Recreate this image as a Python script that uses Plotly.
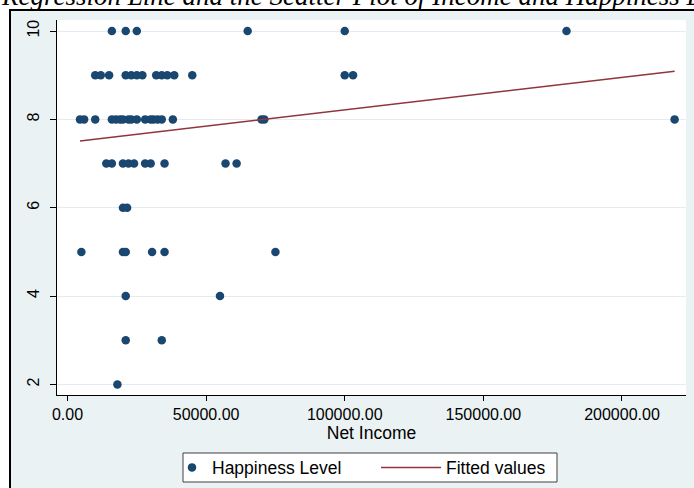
import plotly.graph_objects as go

# Observed happiness level (0-10) against net income, grouped by happiness level
income = [
    16000, 21000, 25000, 65000, 100000, 180000,                       # 10
    10000, 12000, 15000, 21000, 23000, 25000, 27000, 32000, 34000,
    36000, 38500, 45000, 100000, 103000,                              # 9
    4500, 6000, 10000, 16000, 17500, 19000, 20000, 22000, 23000,
    25000, 28000, 30000, 31000, 32500, 34000, 38000, 70000, 71000,
    219000,                                                           # 8
    14000, 16000, 20000, 22000, 24000, 28000, 30000, 35000, 57000,
    61000,                                                            # 7
    20000, 21500,                                                     # 6
    5000, 20000, 21000, 30500, 35000, 75000,                          # 5
    21000, 55000,                                                     # 4
    21000, 34000,                                                     # 3
    18000,                                                            # 2
]
happiness = (
    [10] * 6 + [9] * 14 + [8] * 19 + [7] * 10 + [6] * 2
    + [5] * 6 + [4] * 2 + [3] * 2 + [2] * 1
)

# Linear fit of happiness on income, evaluated at the ends of the income range
fit_income = [4500, 219000]
fit_happiness = [7.51, 9.09]

x_ticks = [0, 50000, 100000, 150000, 200000]
x_tick_labels = ["0.00", "50000.00", "100000.00", "150000.00", "200000.00"]
y_ticks = [2, 4, 6, 8, 10]

title_text = "Regression Line and the Scatter Plot of Income and Happiness Level"

NAVY = "#1A476F"
MAROON = "#90353B"
REGION = "#EAF2F3"
GRID = "#E4ECEF"
SANS = "Arial, Liberation Sans, sans-serif"

W, H = 694, 488
L, R, T, B = 57, 8, 20, 93
pw, ph = W - L - R, H - T - B


def px_x(p):
    return (p - L) / pw


def px_y(p):
    return (H - B - p) / ph


fig = go.Figure()
fig.add_trace(go.Scatter(
    x=income, y=happiness, mode="markers", name="Happiness Level",
    marker=dict(color=NAVY, size=8.5, line=dict(width=0)),
    legend="legend",
))
fig.add_trace(go.Scatter(
    x=fit_income, y=fit_happiness, mode="lines", name="Fitted values",
    line=dict(color=MAROON, width=1.5),
    legend="legend2",
))

legend_common = dict(
    orientation="h", yanchor="middle", y=px_y(467.5),
    bgcolor="rgba(0,0,0,0)", borderwidth=0, xanchor="left",
    font=dict(family=SANS, size=17.5, color="black"),
)

fig.update_layout(
    width=W, height=H,
    margin=dict(l=L, r=R, t=T, b=B, pad=0, autoexpand=False),
    paper_bgcolor="white", plot_bgcolor="white",
    font=dict(family=SANS, size=16, color="black"),
    showlegend=True,
    legend=dict(legend_common, x=px_x(172), itemwidth=30),
    legend2=dict(legend_common, x=px_x(376), itemwidth=60),
    shapes=[
        # graph region with its frame
        dict(type="rect", xref="paper", yref="paper", layer="below",
             x0=px_x(10), x1=px_x(720), y0=px_y(520), y1=px_y(10),
             fillcolor=REGION, line=dict(color="black", width=2)),
        # plot region
        dict(type="rect", xref="paper", yref="paper", layer="below",
             x0=0, x1=1, y0=0, y1=1,
             fillcolor="white", line=dict(width=0)),
        # legend box
        dict(type="rect", xref="paper", yref="paper", layer="above",
             x0=px_x(183), x1=px_x(557), y0=px_y(482), y1=px_y(453),
             fillcolor="white", line=dict(color="#404040", width=1)),
    ],
    annotations=[
        dict(text="<i>" + title_text + "</i>", xref="paper", yref="paper",
             x=px_x(-1), xanchor="left", y=px_y(-4.5), yanchor="middle",
             showarrow=False,
             font=dict(family="Liberation Serif, Times New Roman, serif",
                       size=27, color="black")),
    ],
)

fig.update_xaxes(
    range=[-3790, 223100], tickvals=x_ticks, ticktext=x_tick_labels,
    ticks="outside", ticklen=5, tickcolor="black", tickwidth=1,
    showline=True, linecolor="black", linewidth=1,
    showgrid=False, zeroline=False, automargin=False,
    title=dict(text="Net Income", standoff=4, font=dict(size=17.5)),
)
fig.update_yaxes(
    range=[1.76, 10.25], tickvals=y_ticks,
    ticks="outside", ticklen=6, tickcolor="black", tickwidth=1,
    tickangle=-90, ticklabelstandoff=5,
    showline=True, linecolor="black", linewidth=1,
    showgrid=True, gridcolor=GRID, gridwidth=1, zeroline=False,
    automargin=False,
)

fig.write_html("out.html")
